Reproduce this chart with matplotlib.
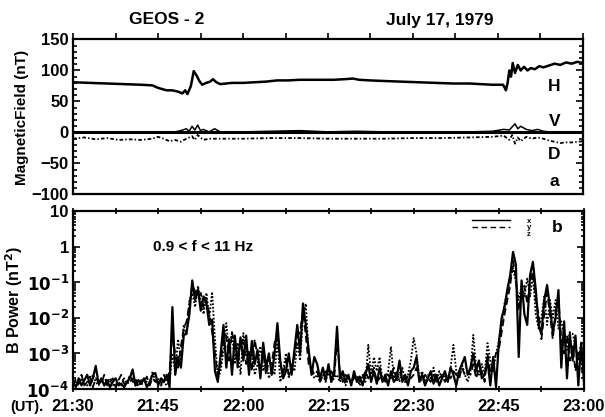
import numpy as np
import matplotlib.pyplot as plt
from matplotlib.ticker import MultipleLocator, FixedLocator, NullFormatter, LogLocator
from matplotlib.lines import Line2D

plt.rcParams['font.family'] = ['Liberation Sans', 'DejaVu Sans']
plt.rcParams['font.weight'] = 'bold'

# ── panel a: magnetic field components (minutes after 21:30 UT, nT) ──────────
h_t = [0, 3, 6, 9, 12, 14, 15, 16.5, 17.5, 18.5, 19.3, 19.8, 20.2, 20.8, 21.3, 21.8,
       22.3, 22.8, 23.5, 24.2, 24.7, 25.3, 26, 27, 28, 30, 32, 34, 36, 38, 40, 42, 44,
       46, 48, 49.4, 50.5, 52.4, 55, 58, 61, 64, 67, 70, 72, 74, 75.9, 76.2, 76.4,
       76.7, 77, 77.3, 77.6, 78, 78.5, 79, 79.6, 80.2, 80.8, 81.5, 82.3, 83, 84, 85,
       86, 87, 88, 89, 90]
h_val = [81, 80, 79, 78, 77, 76, 72, 68, 68, 66, 63, 68, 62, 75, 99, 92,
         83, 77, 80, 82, 86, 81, 78, 79, 80, 80, 81, 82, 84, 84, 85, 85, 85,
         85, 86, 87, 85, 84, 83, 82, 81, 80, 79, 79, 78, 77, 77, 72, 68,
         80, 100, 90, 112, 96, 109, 100, 106, 100, 104, 102, 107, 105, 108, 111,
         109, 113, 111, 114, 112]

v_t = [0, 10, 18, 19, 20, 20.5, 21, 21.5, 22, 22.5, 23, 24, 25, 26, 30, 35, 40, 45,
       50, 55, 60, 65, 70, 74, 76, 77, 78, 78.5, 79, 80, 81, 82, 83, 84, 86, 90]
v_val = [1, 1, 1, 3, 6, 2, 10, 4, 12, 3, 5, 1, 6, 1, 1, 2, 3, 1,
         2, 1, 1, 1, 1, 2, 5, 4, 14, 6, 10, 5, 3, 5, 2, 1, 1, 0]

d_t = [0, 2, 4, 6, 8, 10, 12, 14, 15, 16, 17, 18, 19, 20, 21, 21.5, 22, 23, 24, 27,
       30, 35, 40, 45, 50, 55, 60, 65, 70, 74, 76, 77, 77.5, 78, 78.5, 79, 80, 81,
       82, 83, 84, 85, 86, 87, 88, 89, 90]
d_val = [-10, -8, -11, -9, -12, -11, -12, -10, -7, -10, -14, -12, -15, -10, -6, -12, -4,
         -12, -10, -10, -10, -9, -9, -10, -10, -10, -9, -9, -8, -7, -5, -12, -4, -18,
         -8, -14, -7, -10, -8, -10, -13, -15, -17, -16, -16, -15, -14]

# ── panel b: band power, log10(nT^2), one value every 0.5 min from 21:30 ──────
bx_log = [
    -3.8, -3.95, -3.7, -3.9, -3.75, -3.6, -3.9, -3.7, -3.35, -3.85,
    -3.7, -3.9, -3.75, -3.95, -3.8, -3.7, -3.9, -3.85, -3.95, -3.8,
    -3.7, -3.45, -3.9, -3.75, -3.85, -3.7, -3.95, -3.8, -3.6, -3.55,
    -3.9, -3.7, -3.8, -3.6, -3.95, -1.7, -3.6, -3.1, -3.4, -2.5,
    -2.4, -1.9, -0.95, -1.5, -1.2, -1.8, -1.4, -1.6, -2.2, -2.05,
    -3.5, -3.8, -3.0, -2.2, -3.4, -2.6, -3.6, -2.5, -3.3, -2.55,
    -3.2, -2.5, -3.6, -2.65, -3.3, -2.9, -3.7, -2.7, -3.4, -3.0,
    -3.6, -3.0, -2.15, -3.2, -3.7, -3.5, -3.0, -3.6, -2.9, -2.2,
    -3.0, -1.6, -2.2, -2.9, -3.6, -3.1, -3.3, -3.7, -3.4, -3.75,
    -3.3, -3.8, -3.5, -2.25, -3.7, -3.5, -3.8, -3.6, -3.9, -3.5,
    -3.8, -3.65, -3.9, -3.6, -3.3, -3.8, -3.5, -3.85, -3.4, -3.8,
    -3.6, -3.9, -3.5, -3.8, -3.7, -3.2, -3.8, -3.6, -3.9, -3.5,
    -3.4, -3.1, -3.8, -3.6, -3.9, -3.7, -3.5, -3.85, -3.6, -3.9,
    -3.7, -3.5, -3.8, -3.4, -3.6, -3.9, -3.5, -3.3, -3.1, -3.6,
    -3.4, -3.0, -3.5, -3.2, -3.7, -3.6, -3.2, -3.9, -3.1, -3.95,
    -2.7, -2.0, -1.7, -1.2, -0.8, -0.15, -0.5, -3.1, -0.95, -1.9,
    -2.2, -0.8, -0.43, -1.2, -2.2, -2.45, -1.5, -1.08, -1.7, -2.4,
    -2.0, -1.22, -3.4, -2.1, -3.7, -2.45, -3.2, -2.5, -3.9, -2.7, -3.8]
by_log = [
    -3.9, -3.7, -3.85, -3.6, -3.9, -3.8, -3.65, -3.95, -3.7, -3.8,
    -3.85, -3.6, -3.9, -3.8, -3.7, -3.95, -3.75, -3.6, -3.85, -3.9,
    -3.6, -3.8, -3.7, -3.95, -3.75, -3.8, -3.65, -3.9, -3.7, -3.8,
    -3.8, -3.9, -3.6, -3.8, -3.5, -2.5, -3.0, -3.4, -2.8, -2.3,
    -2.1, -1.6, -1.1, -1.25, -1.4, -1.3, -1.7, -1.5, -1.9, -2.4,
    -3.0, -3.6, -3.3, -2.6, -2.5, -3.2, -2.4, -2.8, -3.4, -2.6,
    -2.7, -3.3, -2.9, -3.5, -2.6, -3.1, -3.4, -3.0, -3.6, -3.2,
    -3.3, -2.7, -2.5, -3.3, -3.6, -3.2, -3.6, -3.4, -3.1, -2.5,
    -2.4, -1.8, -2.5, -3.3, -3.4, -3.6, -3.5, -3.8, -3.6, -3.5,
    -3.6, -3.5, -3.7, -2.6, -3.5, -3.8, -3.6, -3.7, -3.8, -3.7,
    -3.6, -3.8, -3.7, -3.5, -3.7, -3.6, -3.4, -3.8, -3.7, -3.6,
    -3.8, -3.6, -3.7, -3.4, -3.8, -3.5, -3.7, -3.8, -3.6, -3.7,
    -3.6, -3.4, -3.7, -3.8, -3.6, -3.7, -3.8, -3.6, -3.8, -3.7,
    -3.6, -3.8, -3.6, -3.7, -3.5, -3.6, -3.7, -3.4, -3.6, -3.5,
    -3.6, -3.3, -3.7, -3.4, -3.5, -3.8, -3.0, -3.5, -3.3, -3.0,
    -2.9, -2.4, -1.9, -1.5, -1.1, -0.4, -0.9, -1.8, -1.3, -1.1,
    -1.6, -1.0, -0.7, -1.5, -1.9, -2.6, -1.9, -1.3, -1.9, -2.6,
    -1.8, -1.5, -2.6, -3.0, -2.5, -3.2, -2.8, -3.5, -3.0, -3.4, -3.6]
bz_log = [
    -3.9, -3.8, -3.9, -3.7, -3.85, -3.9, -3.8, -3.6, -3.8, -3.9,
    -3.75, -3.9, -3.8, -3.7, -3.9, -3.85, -3.8, -3.9, -3.7, -3.85,
    -3.8, -3.7, -3.9, -3.8, -3.9, -3.75, -3.8, -3.9, -3.5, -3.8,
    -3.7, -3.9, -3.8, -3.9, -3.8, -3.0, -3.5, -2.6, -3.2, -2.2,
    -2.5, -1.5, -1.3, -1.7, -1.1, -1.5, -1.9, -1.3, -2.0, -1.27,
    -2.6, -3.7, -3.5, -2.9, -2.15, -3.0, -2.4, -3.3, -2.7, -3.6,
    -2.43, -3.0, -3.5, -2.9, -3.6, -3.3, -2.8, -3.5, -3.2, -3.7,
    -3.4, -3.6, -2.6, -3.8, -3.5, -3.0, -3.7, -3.3, -3.5, -2.7,
    -3.2, -2.0, -1.6, -3.0, -3.5, -3.7, -3.6, -3.8, -3.6, -3.8,
    -3.5, -3.8, -3.7, -3.6, -3.8, -3.6, -3.9, -3.7, -3.8, -3.6,
    -3.7, -3.9, -3.6, -3.8, -2.76, -3.6, -3.1, -3.5, -3.1, -3.8,
    -3.7, -3.5, -2.81, -3.7, -3.5, -3.8, -3.4, -3.8, -3.6, -3.2,
    -2.57, -3.0, -3.7, -3.5, -3.8, -3.6, -3.7, -3.4, -3.8, -3.5,
    -3.7, -3.6, -3.8, -3.4, -2.76, -3.5, -3.7, -3.3, -3.6, -3.8,
    -3.5, -2.48, -3.4, -3.6, -3.3, -3.6, -2.71, -3.2, -3.5, -3.0,
    -2.67, -2.2, -1.6, -1.3, -0.9, -0.6, -1.0, -1.5, -1.1, -1.4,
    -0.9, -1.4, -0.8, -1.9, -2.3, -2.0, -1.4, -2.2, -1.5, -2.0,
    -1.5, -2.3, -2.1, -2.5, -2.9, -2.4, -2.45, -2.8, -3.2, -2.7, -3.5]

time_labels = ['21:30', '21:45', '22:00', '22:15', '22:30', '22:45', '23:00']

fig = plt.figure(figsize=(6.05, 4.17), dpi=100)
ax1 = fig.add_axes([0.1207, 0.5336, 0.8429, 0.3717])
ax2 = fig.add_axes([0.1207, 0.0671, 0.8446, 0.4269])

# ── panel a ──────────────────────────────────────────────────────────────────
ax1.axhline(0, color='black', lw=2.2, zorder=3)
ax1.plot(h_t, h_val, color='black', lw=1.8)
ax1.plot(v_t, v_val, color='black', lw=1.1)
ax1.plot(d_t, d_val, color='black', lw=1.3, ls=(0, (2, 1.2, 0.8, 1.2)))
ax1.set_xlim(0, 90)
ax1.set_ylim(-100, 150)
ax1.yaxis.set_major_locator(MultipleLocator(50))
ax1.yaxis.set_minor_locator(MultipleLocator(10))
ax1.tick_params(axis='y', which='both', direction='in', left=True, right=True,
                labelsize=12, pad=3, width=1.2)
ax1.tick_params(axis='y', which='major', length=5)
ax1.tick_params(axis='y', which='minor', length=3)
ax1.xaxis.set_major_locator(MultipleLocator(7.5))
ax1.tick_params(axis='x', which='both', bottom=False, top=True, labelbottom=False,
                direction='out', length=4, width=1.2)
ax1.set_ylabel('MagneticField (nT)', fontsize=11, fontweight='bold', labelpad=2)
for s in ax1.spines.values():
    s.set_linewidth(1.6)
for lab, yv in [('H', 74), ('V', 17), ('D', -35), ('a', -79)]:
    ax1.text(0.944, yv, lab, transform=ax1.get_yaxis_transform(), fontsize=12.5,
             fontweight='bold', ha='center', va='center')

# ── panel b ──────────────────────────────────────────────────────────────────
tb = np.arange(len(bx_log)) * 0.5
ax2.plot(tb, 10 ** np.array(bx_log), color='black', lw=1.6, ls='-')
ax2.plot(tb, 10 ** np.array(by_log), color='black', lw=1.3, ls=(0, (4, 2)))
ax2.plot(tb, 10 ** np.array(bz_log), color='black', lw=1.3, ls=(0, (1, 1)))
ax2.set_yscale('log')
ax2.set_xlim(0, 90)
ax2.set_ylim(1e-4, 10)
ax2.set_yticks([1e-4, 1e-3, 1e-2, 1e-1, 1, 10])
ax2.set_yticklabels(['$\\mathbf{10^{-4}}$', '$\\mathbf{10^{-3}}$', '$\\mathbf{10^{-2}}$',
                     '$\\mathbf{10^{-1}}$', '1', '10'])
ax2.yaxis.set_minor_locator(LogLocator(base=10, subs=np.arange(2, 10)))
ax2.yaxis.set_minor_formatter(NullFormatter())
ax2.tick_params(axis='y', which='both', direction='in', left=True, right=True,
                labelsize=12, pad=3, width=1.2)
ax2.tick_params(axis='y', which='major', length=5)
ax2.tick_params(axis='y', which='minor', length=2.5)
ax2.xaxis.set_major_locator(FixedLocator(np.arange(0, 91, 15)))
ax2.xaxis.set_minor_locator(FixedLocator(np.arange(7.5, 90, 15)))
ax2.set_xticklabels(time_labels)
ax2.tick_params(axis='x', which='both', direction='inout', top=True, length=4,
                width=1.2, labelsize=12, pad=5)
ax2.set_ylabel('B Power (nT$^\\mathbf{2}$)', fontsize=11.5, fontweight='bold', labelpad=1)
for s in ax2.spines.values():
    s.set_linewidth(1.6)
fig.text(10 / 605, 1 - 407 / 417, '(UT).', fontsize=10.5, fontweight='bold',
         ha='left', va='center')

ax2.text(0.255, 0.80, '0.9 < f < 11 Hz', transform=ax2.transAxes, fontsize=11,
         fontweight='bold', ha='center', va='center')
ax2.text(0.948, 0.905, 'b', transform=ax2.transAxes, fontsize=12.5,
         fontweight='bold', ha='center', va='center')
handles = [Line2D([], [], color='black', lw=1.0, ls='-'),
           Line2D([], [], color='black', lw=1.0, ls=(0, (4, 2.5))),
           Line2D([], [], color='white', lw=1.0)]
ax2.legend(handles, ['x', 'y', 'z'], loc='upper right', bbox_to_anchor=(0.905, 0.99),
           frameon=False, fontsize=5.5, handlelength=5.0, labelspacing=-0.1,
           handletextpad=2.2, borderaxespad=0.2)

# ── titles ───────────────────────────────────────────────────────────────────
fig.text(167 / 605, 1 - 20 / 417, 'GEOS - 2', fontsize=12.5, fontweight='bold',
         ha='center', va='center')
fig.text(440 / 605, 1 - 20 / 417, 'July 17, 1979', fontsize=12.5, fontweight='bold',
         ha='center', va='center')

plt.savefig('out.png', dpi=100)
